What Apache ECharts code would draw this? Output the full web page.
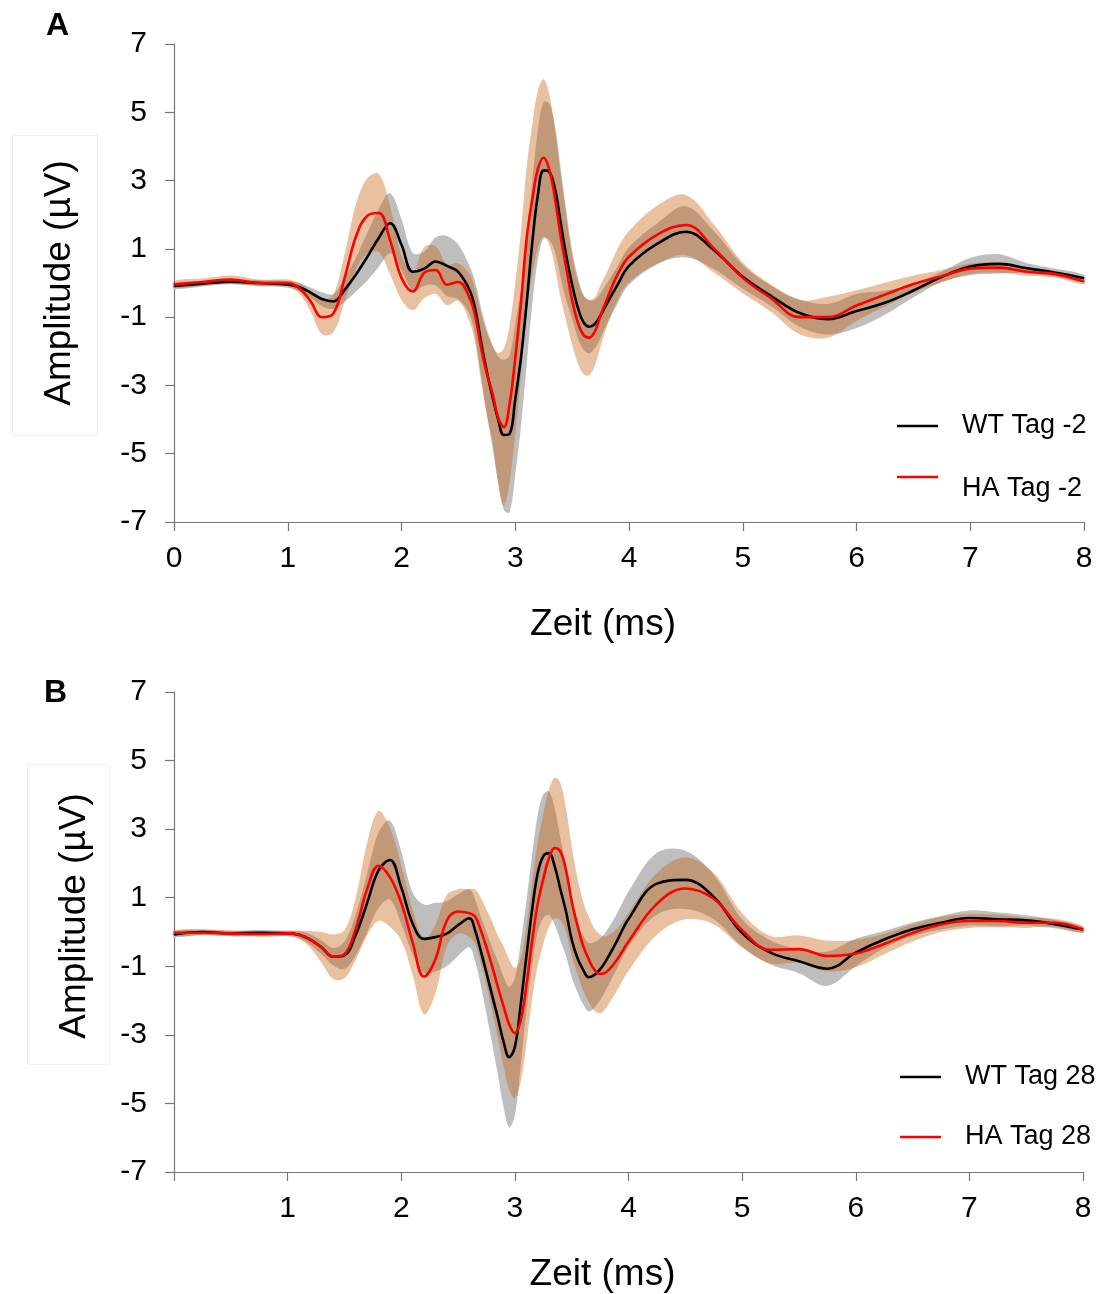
<!DOCTYPE html>
<html>
<head>
<meta charset="utf-8">
<script src="https://cdn.jsdelivr.net/npm/echarts@6/dist/echarts.min.js"></script>
<style>
html,body{margin:0;padding:0;background:#fff;}
#chart{width:1097px;height:1294px;}
</style>
</head>
<body>
<div id="chart"></div>
<script>
// time grid (ms)
const T = [0, 0.25, 0.5, 0.75, 1.0,
  1.1, 1.2, 1.3, 1.4, 1.5, 1.6, 1.7, 1.8, 1.9, 2.0, 2.1, 2.2, 2.3, 2.4, 2.5,
  2.6, 2.65, 2.7, 2.75, 2.8, 2.85, 2.9, 2.95, 3.0, 3.05, 3.1, 3.15, 3.2, 3.25, 3.3, 3.35, 3.4, 3.45, 3.5, 3.55, 3.6, 3.65, 3.7, 3.75, 3.8,
  3.9, 4.0,
  4.25, 4.5, 4.75, 5.0, 5.25, 5.5, 5.75, 6.0, 6.25, 6.5, 6.75, 7.0, 7.25, 7.5, 7.75, 8.0];

// Panel A (Tag -2)
const wtA = [-0.09, -0.02, 0.04, 0.0, -0.04,
  -0.12, -0.28, -0.47, -0.54, -0.2, 0.25, 0.77, 1.32, 1.75, 1.12, 0.33, 0.42, 0.63, 0.5, 0.32,
  -0.22, -0.8, -1.74, -2.6, -3.33, -4.0, -4.45, -4.42, -3.4, -2.2, -0.6, 1.2, 2.6, 3.3, 3.25, 2.75, 1.75, 0.77, -0.05, -0.72, -1.15, -1.28, -1.2, -0.95, -0.64,
  -0.05, 0.5,
  1.15, 1.5, 0.95, 0.18, -0.38, -0.88, -1.06, -0.82, -0.58, -0.22, 0.18, 0.48, 0.56, 0.43, 0.3, 0.14];
const wtA_sd = [0.08, 0.08, 0.08, 0.08, 0.1,
  0.12, 0.15, 0.2, 0.22, 0.35, 0.5, 0.7, 0.85, 0.88, 0.75, 0.55, 0.5, 0.7, 0.88, 0.8,
  0.7, 0.8, 1.0, 1.25, 1.5, 1.85, 2.2, 2.3, 2.2, 2.0, 1.8, 1.8, 1.9, 2.0, 2.0, 1.85, 1.6, 1.3, 1.0, 0.9, 0.8, 0.78, 0.7, 0.65, 0.6,
  0.55, 0.55,
  0.6, 0.75, 0.55, 0.35, 0.3, 0.4, 0.45, 0.5, 0.35, 0.2, 0.15, 0.25, 0.28, 0.15, 0.12, 0.1];
const haA = [-0.04, 0.03, 0.1, 0.0, 0.0,
  -0.15, -0.53, -1.0, -0.9, 0.15, 1.36, 1.97, 2.05, 1.25, 0.15, -0.25, 0.3, 0.38, -0.05, 0.03,
  -0.45, -1.0, -1.9, -2.65, -3.23, -3.95, -4.22, -3.55, -2.2, -0.6, 1.3, 2.45, 3.35, 3.67, 3.31, 2.45, 1.35, 0.4, -0.5, -1.15, -1.52, -1.6, -1.42, -0.95, -0.53,
  0.25, 0.77,
  1.42, 1.7, 1.0, 0.15, -0.45, -1.0, -1.0, -0.66, -0.34, -0.03, 0.2, 0.42, 0.45, 0.33, 0.26, 0.04];
const haA_sd = [0.1, 0.1, 0.12, 0.1, 0.1,
  0.15, 0.3, 0.5, 0.55, 0.7, 0.95, 1.1, 1.15, 1.0, 0.65, 0.55, 0.75, 0.7, 0.6, 0.55,
  0.7, 0.8, 1.0, 1.2, 1.4, 1.9, 2.3, 2.3, 2.2, 2.1, 2.1, 2.2, 2.3, 2.3, 2.2, 2.0, 1.8, 1.55, 1.3, 1.2, 1.15, 1.1, 1.0, 0.9, 0.8,
  0.75, 0.75,
  0.85, 0.88, 0.7, 0.45, 0.4, 0.5, 0.6, 0.45, 0.35, 0.25, 0.18, 0.15, 0.15, 0.12, 0.1, 0.08];

// Panel B (Tag 28)
const wtB = [-0.07, 0.0, -0.04, -0.02, -0.04,
  -0.08, -0.22, -0.45, -0.72, -0.68, -0.08, 0.85, 1.8, 2.1, 1.3, 0.25, -0.2, -0.15, -0.05, 0.2,
  0.4, 0.05, -0.55, -1.19, -1.85, -2.5, -3.2, -3.65, -3.35, -2.15, -0.75, 0.6, 1.7, 2.21, 2.3, 1.92, 1.25, 0.6, -0.22, -0.75, -1.1, -1.32, -1.25, -1.09, -0.85,
  -0.25, 0.38,
  1.41, 1.52, 1.02, -0.03, -0.6, -0.85, -1.07, -0.6, -0.22, 0.08, 0.27, 0.41, 0.37, 0.34, 0.23, 0.07];
const wtB_sd = [0.08, 0.08, 0.08, 0.08, 0.08,
  0.1, 0.15, 0.2, 0.25, 0.4, 0.6, 0.85, 1.1, 1.15, 1.05, 0.9, 1.0, 1.0, 0.95, 0.9,
  0.85, 0.9, 1.0, 1.2, 1.4, 1.65, 1.9, 2.05, 2.0, 1.8, 1.6, 1.6, 1.7, 1.8, 1.8, 1.7, 1.5, 1.3, 1.1, 1.0, 1.0, 1.0, 0.95, 0.9, 0.85,
  0.8, 0.8,
  0.9, 0.85, 0.65, 0.4, 0.35, 0.35, 0.5, 0.4, 0.25, 0.2, 0.2, 0.22, 0.2, 0.15, 0.12, 0.08];
const haB = [-0.02, -0.02, -0.04, -0.06, -0.04,
  -0.08, -0.22, -0.45, -0.72, -0.65, 0.1, 1.25, 1.93, 1.6, 0.85, -0.3, -1.3, -0.8, 0.33, 0.6,
  0.55, 0.45, 0.05, -0.45, -1.0, -1.6, -2.16, -2.7, -2.95, -2.6, -1.6, -0.3, 0.8, 1.55, 2.15, 2.45, 2.35, 1.8, 0.9, 0.2, -0.4, -0.8, -1.1, -1.22, -1.18,
  -0.8, -0.28,
  0.82, 1.27, 0.97, 0.05, -0.52, -0.5, -0.7, -0.63, -0.35, -0.03, 0.22, 0.32, 0.32, 0.27, 0.27, 0.07];
const haB_sd = [0.08, 0.08, 0.08, 0.08, 0.08,
  0.12, 0.25, 0.45, 0.65, 0.7, 0.9, 1.35, 1.6, 1.45, 1.1, 0.95, 1.1, 1.0, 0.75, 0.65,
  0.7, 0.8, 0.95, 1.1, 1.3, 1.5, 1.75, 1.9, 1.9, 1.8, 1.7, 1.7, 1.8, 1.9, 2.0, 2.05, 2.0, 1.8, 1.6, 1.4, 1.3, 1.25, 1.2, 1.15, 1.05,
  0.9, 0.85,
  0.9, 0.9, 0.75, 0.5, 0.4, 0.4, 0.45, 0.4, 0.3, 0.25, 0.22, 0.2, 0.18, 0.15, 0.12, 0.1];

const namesA = ['WT Tag -2', 'HA Tag -2'];
const namesB = ['WT Tag 28', 'HA Tag 28'];

const FONT = '"Liberation Sans", Arial, Helvetica, sans-serif';
const GREY_BAND = '#bebebe';
const ORANGE_BAND = 'rgba(197,89,5,0.38)';
const AXIS_COLOR = '#777777';

function pairs(v) { return T.map((t, i) => [t, v[i]]); }

function band(idx, mean, sd, fill, z) {
  return {
    type: 'custom', xAxisIndex: idx, yAxisIndex: idx, silent: true, z: z,
    data: [[0, 0]],
    renderItem: function (params, api) {
      const pts = [];
      for (let i = 0; i < T.length; i++) pts.push(api.coord([T[i], mean[i] + sd[i]]));
      for (let i = T.length - 1; i >= 0; i--) pts.push(api.coord([T[i], mean[i] - sd[i]]));
      return { type: 'polygon', shape: { points: pts, smooth: 0.35 }, style: { fill: fill, stroke: null } };
    }
  };
}

function line(idx, name, mean, color, z) {
  return {
    type: 'line', name: name, xAxisIndex: idx, yAxisIndex: idx, data: pairs(mean),
    smooth: 0.4, symbol: 'none', showSymbol: false, z: z, color: color,
    lineStyle: { color: color, width: 2.6 }, itemStyle: { color: color },
    emphasis: { disabled: true }, animation: false
  };
}

function xAxis(idx, hideZero) {
  return {
    type: 'value', gridIndex: idx, min: 0, max: 8, interval: 1,
    name: 'Zeit (ms)', nameLocation: 'middle', nameGap: 84,
    nameTextStyle: { fontSize: 37, color: '#000', fontFamily: FONT, padding: [0, 52, 0, 0] },
    axisLine: { show: true, onZero: false, lineStyle: { color: AXIS_COLOR, width: 1.2 } },
    axisTick: { show: true, length: 9, lineStyle: { color: AXIS_COLOR, width: 1.2 } },
    splitLine: { show: false },
    axisLabel: { fontSize: 30, color: '#000', fontFamily: FONT, margin: 22,
      formatter: function (v) { return (hideZero && v === 0) ? '' : String(v); } }
  };
}

function yAxis(idx, gap, pad) {
  return {
    type: 'value', gridIndex: idx, min: -7, max: 7, interval: 2,
    name: 'Amplitude (µV)', nameLocation: 'middle', nameGap: gap,
    nameTextStyle: { fontSize: 37, color: '#000', fontFamily: FONT, padding: pad },
    axisLine: { show: true, onZero: false, lineStyle: { color: AXIS_COLOR, width: 1.2 } },
    axisTick: { show: true, length: 9, lineStyle: { color: AXIS_COLOR, width: 1.2 } },
    splitLine: { show: false },
    axisLabel: { fontSize: 30, color: '#000', fontFamily: FONT, margin: 27 }
  };
}

function legend(name, left, top, padTop) {
  return {
    data: [name], left: left, top: top, padding: 0, selectedMode: false,
    icon: 'rect', itemWidth: 41, itemHeight: 2.5,
    formatter: '{p|{name}}',
    textStyle: {
      fontSize: 27, lineHeight: 27, color: '#000', fontFamily: FONT,
      rich: { p: { fontSize: 27, lineHeight: 27, color: '#000', fontFamily: FONT, padding: [padTop, 0, 0, 19] } }
    }
  };
}

const chart = echarts.init(document.getElementById('chart'), null, { renderer: 'canvas' });
chart.setOption({
  animation: false,
  backgroundColor: '#ffffff',
  textStyle: { fontFamily: FONT },
  title: [
    { text: 'A', left: 46, top: 10, padding: 0, textStyle: { fontSize: 32, fontWeight: 'bold', color: '#000', fontFamily: FONT } },
    { text: 'B', left: 44, top: 677, padding: 0, textStyle: { fontSize: 32, fontWeight: 'bold', color: '#000', fontFamily: FONT } }
  ],
  grid: [
    { left: 174, top: 44, width: 910, height: 478 },
    { left: 174, top: 692, width: 909, height: 481 }
  ],
  xAxis: [xAxis(0, false), xAxis(1, true)],
  yAxis: [yAxis(0, 96, [0, 0, 0, 0]), yAxis(1, 81, [0, 0, 0, 32])],
  legend: [
    legend(namesA[0], 897, 412.5, 0),
    legend(namesA[1], 897, 451.5, 24),
    legend(namesB[0], 900, 1063.5, 0),
    legend(namesB[1], 900, 1123.5, 0)
  ],
  graphic: [
    { type: 'rect', left: 10, top: 133, shape: { width: 85, height: 300 }, style: { fill: null, stroke: '#efefef', lineWidth: 1 }, z: -1 },
    { type: 'rect', left: 25, top: 762, shape: { width: 82, height: 300 }, style: { fill: null, stroke: '#efefef', lineWidth: 1 }, z: -1 }
  ],
  series: [
    band(0, wtA, wtA_sd, GREY_BAND, 1),
    band(0, haA, haA_sd, ORANGE_BAND, 2),
    line(0, namesA[0], wtA, '#000000', 3),
    line(0, namesA[1], haA, '#ff0000', 4),
    band(1, wtB, wtB_sd, GREY_BAND, 1),
    band(1, haB, haB_sd, ORANGE_BAND, 2),
    line(1, namesB[0], wtB, '#000000', 3),
    line(1, namesB[1], haB, '#ff0000', 4)
  ]
});
</script>
</body>
</html>
